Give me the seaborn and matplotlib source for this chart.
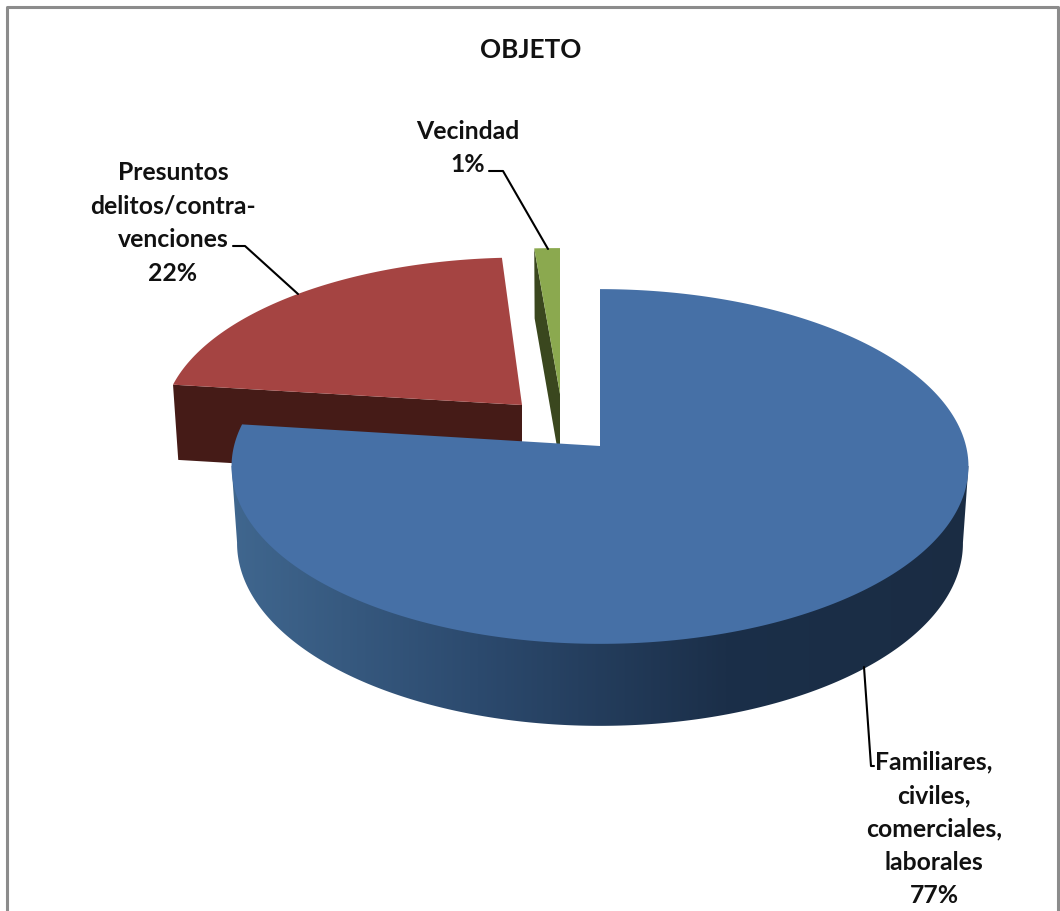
import numpy as np
import seaborn as sns
from matplotlib import pyplot as plt
from matplotlib.colors import LinearSegmentedColormap
from matplotlib.patches import Polygon

# data
labels = ["Familiares,\nciviles,\ncomerciales,\nlaborales\n77%",
          "Presuntos\ndelitos/contra-\nvenciones\n22%",
          "Vecindad\n1%"]
values = [77, 22, 1]

top_colors = ["#4670A6", "#A54442", "#8BA94F"]
side_colors = [None, "#451B17", "#3A471E"]
side_cmap = LinearSegmentedColormap.from_list("side", ["#40678F", "#2C4A6E", "#1B2F49", "#1A2C43"])

# pie geometry, in pixels
cx, cy = 600, 447
rx, ry = 366, 175
persp = 0.1155
apex_pos = [(cx, cy), (522, 406), (560, 395)]
scale_x = [1, 0.975, 1.25]
scale_y = [1, 0.94, 0.93]

sns.set_theme(style="white")
plt.rcParams["font.family"] = ["Lato", "DejaVu Sans"]

fig = plt.figure(figsize=(10.6, 9.12), dpi=100)
ax = fig.add_axes([0, 0, 1, 1])


def project(theta, i=0):
    u, v = np.sin(theta), -np.cos(theta)
    s = 1 / (1 - persp * v)
    x = apex_pos[i][0] + rx * u * s * scale_x[i]
    y = apex_pos[i][1] + ry * v * s * scale_y[i]
    return x, y


def depth(theta):
    return 76 - 6 * np.cos(theta)


edges = np.radians(np.cumsum([0] + values) / sum(values) * 360)

# exploded slices: green, then red
for i in [2, 1]:
    t = np.linspace(edges[i], edges[i + 1], 80)
    x, y = project(t, i)
    ax_, ay_ = apex_pos[i]
    sx, sy = x[0], y[0]
    d0 = depth(edges[i])
    ax.fill([sx, sx + 0.015 * (ax_ - sx), ax_, ax_], [sy, sy + d0, ay_ + d0, ay_],
            color=side_colors[i], lw=0, zorder=2)
    ax.fill(np.r_[ax_, x], np.r_[ay_, y], color=top_colors[i], lw=0, zorder=3)

# blue rim with a left to right gradient, outline runs from one widest point to the other
t = np.linspace(np.radians(60), edges[1], 400)
x, y = project(t)
xb = cx + (x - cx) * 0.985
yb = y + depth(t)
r, l = np.argmax(x), np.argmin(x)
rim = Polygon(np.c_[np.r_[x[r], xb[r:l + 1], x[l]], np.r_[y[r], yb[r:l + 1], y[l]]],
              closed=True, transform=ax.transData, fc="none", lw=0)
ax.add_patch(rim)
grad = ax.imshow(np.linspace(0, 1, 512)[None, :], cmap=side_cmap, aspect="auto",
                 extent=(228, 975, 730, 400), zorder=4)
grad.set_clip_path(rim)

# blue top face
t = np.linspace(edges[0], edges[1], 300)
x, y = project(t)
ax.fill(np.r_[cx, x], np.r_[cy, y], color=top_colors[0], lw=0, zorder=5)

# leader lines
ax.plot([864, 871, 874], [668, 767, 767], color="black", lw=1.5, zorder=6)
ax.plot([233, 245, 298], [247, 247, 295], color="black", lw=1.5, zorder=6)
ax.plot([489, 503, 548], [172, 172, 250], color="black", lw=1.5, zorder=6)

# labels
ax.text(531, 50, "OBJETO", ha="center", va="center", fontsize=18.8, fontweight="bold", color="#111111", zorder=7)
label_pos = [(934, 829), (173, 223), (468, 148)]
for lab, (lx, ly) in zip(labels, label_pos):
    ax.text(lx, ly, lab, ha="center", va="center", fontsize=17.8, fontweight="bold",
            color="#111111", linespacing=1.55, zorder=7)

# chart frame, cut off at the bottom
ax.plot([7, 7, 1058, 1058], [912, 8, 8, 912], color="#8C8C8C", lw=2.2, zorder=1)

ax.set_xlim(0, 1060)
ax.set_ylim(912, 0)
ax.axis("off")

fig.savefig("out.png", dpi=100, facecolor="white")
